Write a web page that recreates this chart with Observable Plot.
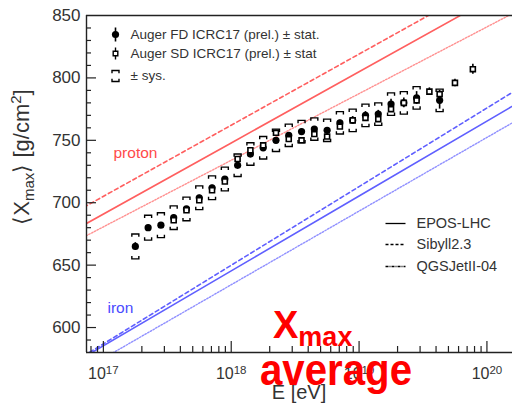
<!DOCTYPE html>
<html><head><meta charset="utf-8">
<script src="https://cdn.jsdelivr.net/npm/d3@7"></script>
<script src="https://cdn.jsdelivr.net/npm/@observablehq/plot@0.6"></script>
<style>
html,body{margin:0;padding:0;background:#fff;}
#chart svg{display:block;}
</style></head><body><div id="chart"></div>
<script>
// ---- data ----
const fdLgE  = [17.25,17.35,17.45,17.55,17.65,17.75,17.85,17.95,18.05,18.15,18.25,18.35,18.45,18.55,18.65,18.75,18.85,18.95,19.05,19.15,19.25,19.35,19.45,19.63];
const fdXmax = [665,680,682,688,695,704,712,719,730,739,744,750,754,757,759,758,764,766,770,771,779,780,784,782];
const fdStat = [3,2,2,2,2,2,2,2,2,2,2,2,2,2,2,2,2,3,3,3,4,4,5,7];
const fdSys  = [10,10,10,9.5,9.5,9.5,9.5,9.5,9,9,9,9,9,9,9,9,9,9,9,9,9,9,9,9];

const sdLgE  = [17.55,17.65,17.75,17.85,17.95,18.05,18.15,18.25,18.35,18.45,18.55,18.65,18.75,18.85,18.95,19.05,19.15,19.25,19.35,19.45,19.55,19.63,19.75,19.89];
const sdXmax = [686,694,702,710,717,735,742,746,756,751,750,755,753,761,766,768,767,775,780,782,789,787,796,807];
const sdStat = [2,2,2,2,2,2,2,2,2,2,2,2,2,2,2,2,2,2,2,3,3,3,3,4];

const modelLgE     = [16.8, 18, 19, 20.3];
const protonEPOS   = [679.5, 747.9, 804.9, 879.0];
const protonSibyll = [693.7, 762.1, 819.1, 893.2];
const protonQGSJet = [670.0, 734.0, 787.4, 856.9];
const ironEPOS     = [573.4, 645.4, 705.4, 783.4];
const ironSibyll   = [574.3, 649.9, 712.9, 794.8];
const ironQGSJet   = [563.5, 634.3, 693.3, 770.0];

const modelNames   = ["EPOS-LHC", "Sibyll2.3", "QGSJetII-04"];
const legendData   = ["Auger FD ICRC17 (prel.) \u00b1 stat.", "Auger SD ICRC17 (prel.) \u00b1 stat", "\u00b1 sys."];
const yTickLabels  = [600, 650, 700, 750, 800, 850];
const xTickLabels  = ["10^17", "10^18", "10^19", "10^20"];

// ---- tables ----
const fd = fdLgE.map((lg, i) => ({E: 10 ** lg, X: fdXmax[i], stat: fdStat[i], sys: fdSys[i]}));
const sd = sdLgE.map((lg, i) => ({E: 10 ** lg, X: sdXmax[i], stat: sdStat[i]}));
const mk = arr => modelLgE.map((lg, i) => ({E: 10 ** lg, X: arr[i]}));

const yMajor = [600, 650, 700, 750, 800];
const yMinor = d3.range(590, 850, 10).filter(v => v % 50 !== 0);
const xMajor = xTickLabels.map(s => 10 ** +s.split("^")[1]);
const xMinor = [];
for (let n = 16; n <= 20; n++) for (let k = 2; k <= 9; k++) xMinor.push(k * 10 ** n);

const W = 512, H = 404, mL = 86, mT = 15, mB = 52, mR = 0;
const fW = W - mL - mR, fH = H - mT - mB;
const xDom = [10 ** 16.868, 10 ** 20.2];
const xMinorIn = xMinor.filter(v => v > xDom[0] && v < xDom[1]);

const FONT = "Liberation Sans, Arial, Helvetica, sans-serif";
const TXT = "#333";
const RED = "#ff5f5f", RED2 = "#ff9090", BLUE = "#5f5fff", BLUE2 = "#9090ff";
const dashes = [null, "4,3", "1.5,1.6"];

const bracketTop = {draw(c) { c.moveTo(-3.5, 2.8); c.lineTo(-3.5, 0); c.lineTo(3.5, 0); c.lineTo(3.5, 2.8); }};
const bracketBot = {draw(c) { c.moveTo(-3.5, -2.8); c.lineTo(-3.5, 0); c.lineTo(3.5, 0); c.lineTo(3.5, -2.8); }};
const swatch = {draw(c) { c.moveTo(-10, 0); c.lineTo(10, 0); }};
const vbar7 = {draw(c) { c.moveTo(0, -7); c.lineTo(0, 7); }};
const vbar6 = {draw(c) { c.moveTo(0, -6); c.lineTo(0, 6); }};

const lineMark = (arr, color, i) => Plot.line(mk(arr), {
  x: "E", y: "X", stroke: color, strokeWidth: i === 2 ? 1.4 : 1.6,
  strokeDasharray: dashes[i], clip: true
});

const legendDy = [19, 38, 60];
const modelDy = [208, 229, 251];
const modelSwatchDash = [null, "3,2", "3,1,1,1"];

const chart = Plot.plot({
  width: W, height: H,
  marginLeft: mL, marginTop: mT, marginBottom: mB, marginRight: mR,
  style: {fontFamily: FONT, background: "white", overflow: "visible"},
  x: {type: "log", domain: xDom},
  y: {domain: [580, 850]},
  marks: [
    // model predictions
    lineMark(protonEPOS, RED, 0),
    lineMark(protonSibyll, RED, 1),
    lineMark(protonQGSJet, RED2, 2),
    lineMark(ironEPOS, BLUE, 0),
    lineMark(ironSibyll, BLUE, 1),
    lineMark(ironQGSJet, BLUE2, 2),
    // inward ticks
    Plot.ruleY(yMajor, {y: d => d, insetRight: fW - 10, stroke: "#222", strokeWidth: 1.2}),
    Plot.ruleY(yMinor, {y: d => d, insetRight: fW - 5, stroke: "#222", strokeWidth: 1.2}),
    Plot.ruleX(xMajor, {x: d => d, insetTop: fH - 11, stroke: "#222", strokeWidth: 1.2}),
    Plot.ruleX(xMinorIn, {x: d => d, insetTop: fH - 6, stroke: "#222", strokeWidth: 1.2}),
    // frame (left, top, bottom; right side is off the picture)
    Plot.ruleY([580, 850], {y: d => d, stroke: "#222", strokeWidth: 1.4}),
    Plot.ruleX([xDom[0]], {x: d => d, stroke: "#222", strokeWidth: 1.4}),
    // axes labels
    Plot.axisY({ticks: yTickLabels, tickSize: 0, tickPadding: 6, fontSize: 17, fill: TXT, label: null}),
    Plot.axisX({ticks: xMajor, tickSize: 0, tickPadding: 15, fontSize: 16, fill: TXT, label: null,
      tickFormat: d => xTickLabels[xMajor.indexOf(d)]}),
    // FD sys brackets
    Plot.dot(fd, {x: "E", y: d => d.X + d.sys, symbol: bracketTop, fill: "none", stroke: "black", strokeWidth: 1.4}),
    Plot.dot(fd, {x: "E", y: d => d.X - d.sys, symbol: bracketBot, fill: "none", stroke: "black", strokeWidth: 1.4}),
    // FD points
    Plot.ruleX(fd, {x: "E", y1: d => d.X - d.stat, y2: d => d.X + d.stat, stroke: "black", strokeWidth: 1.6}),
    Plot.dot(fd, {x: "E", y: "X", r: 3.6, fill: "black"}),
    // SD points
    Plot.ruleX(sd, {x: "E", y1: d => d.X - d.stat, y2: d => d.X + d.stat, stroke: "black", strokeWidth: 1.6}),
    Plot.dot(sd, {x: "E", y: "X", symbol: "square", r: 2.8, fill: "white", stroke: "black", strokeWidth: 1.6}),
    // top-left legend
    ...legendData.map((t, i) => Plot.text([t], {text: d => d, frameAnchor: "top-left", dx: 44, dy: legendDy[i], textAnchor: "start", lineAnchor: "middle", fontSize: 13.5, fill: TXT})),
    Plot.dot([0], {frameAnchor: "top-left", dx: 29, dy: 19, symbol: vbar7, stroke: "black", strokeWidth: 1.6}),
    Plot.dot([0], {frameAnchor: "top-left", dx: 29, dy: 19, r: 3.6, fill: "black"}),
    Plot.dot([0], {frameAnchor: "top-left", dx: 29, dy: 38, symbol: vbar6, stroke: "black", strokeWidth: 1.4}),
    Plot.dot([0], {frameAnchor: "top-left", dx: 29, dy: 38, symbol: "square", r: 2.6, fill: "white", stroke: "black", strokeWidth: 1.4}),
    Plot.dot([0], {frameAnchor: "top-left", dx: 29, dy: 55, symbol: bracketTop, fill: "none", stroke: "black", strokeWidth: 1.4}),
    Plot.dot([0], {frameAnchor: "top-left", dx: 29, dy: 66, symbol: bracketBot, fill: "none", stroke: "black", strokeWidth: 1.4}),
    // model legend
    ...modelNames.map((m, i) => Plot.dot([m], {frameAnchor: "top-left", dx: 309, dy: modelDy[i], symbol: swatch, fill: "none", stroke: "black", strokeWidth: 1.3, strokeDasharray: modelSwatchDash[i]})),
    ...modelNames.map((m, i) => Plot.text([m], {text: d => d, frameAnchor: "top-left", dx: 330, dy: modelDy[i], textAnchor: "start", lineAnchor: "middle", fontSize: 14.5, fill: TXT})),
    // proton / iron labels
    Plot.text(["proton"], {text: d => d, frameAnchor: "top-left", dx: 27, dy: 138, textAnchor: "start", lineAnchor: "middle", fontSize: 15.5, fill: "#ff4a4a"}),
    Plot.text(["iron"], {text: d => d, frameAnchor: "top-left", dx: 21, dy: 293, textAnchor: "start", lineAnchor: "middle", fontSize: 15.5, fill: "#4a4aff"})
  ]
});
document.getElementById("chart").appendChild(chart);

// ---- post-processing: superscripts, titles, overlay ----
const svg = d3.select(chart);
svg.selectAll('g[aria-label="x-axis tick label"] text').each(function () {
  const t = this.textContent;
  const [b, e] = t.split("^");
  const sel = d3.select(this);
  sel.text(null);
  sel.append("tspan").text(b);
  sel.append("tspan").attr("dy", "-0.45em").attr("font-size", "0.72em").text(e);
});

// y-axis title
const yt = svg.append("text")
  .attr("transform", "translate(29,157) rotate(-90)")
  .attr("text-anchor", "middle")
  .attr("font-family", FONT).attr("font-size", 22).attr("fill", TXT);
yt.append("tspan").text("\u27e8X");
yt.append("tspan").attr("font-size", 15).attr("dy", 5).text("max");
yt.append("tspan").attr("dy", -5).text("\u27e9 [g/cm");
yt.append("tspan").attr("font-size", 15).attr("dy", -8).text("2");
yt.append("tspan").attr("dy", 8).text("]");

// x-axis title
svg.append("text").attr("x", 299).attr("y", 399).attr("text-anchor", "middle")
  .attr("font-family", FONT).attr("font-size", 20).attr("fill", TXT).text("E [eV]");

// red overlay text
const ov = svg.append("text").attr("x", 273).attr("y", 338).attr("text-anchor", "start")
  .attr("font-family", FONT).attr("font-weight", "bold").attr("font-size", 38).attr("fill", "#ff0000");
ov.append("tspan").text("X");
ov.append("tspan").attr("font-size", 27).attr("dy", 8).text("max");
svg.append("text").attr("x", 260).attr("y", 385).attr("text-anchor", "start")
  .attr("font-family", FONT).attr("font-weight", "bold").attr("font-size", 45).attr("fill", "#ff0000")
  .attr("textLength", 152).attr("lengthAdjust", "spacingAndGlyphs").text("average");
</script></body></html>
